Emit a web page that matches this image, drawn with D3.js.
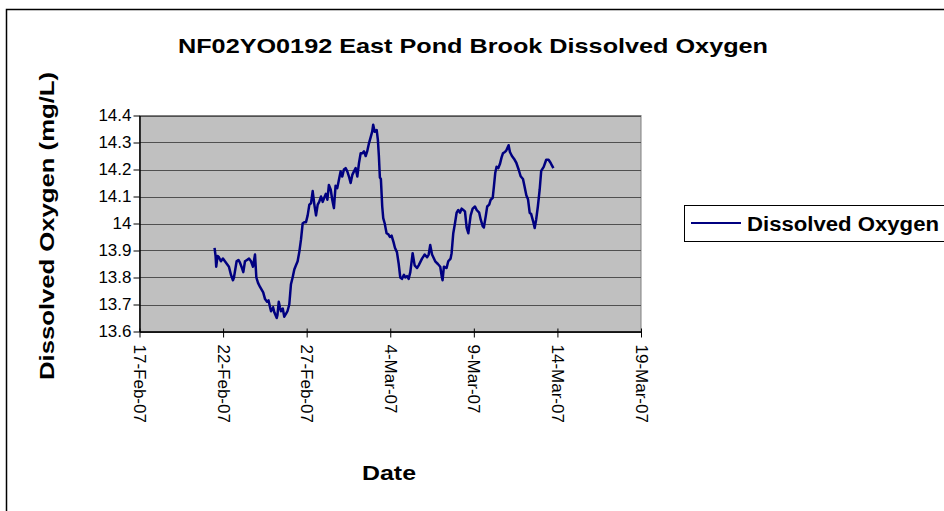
<!DOCTYPE html>
<html>
<head>
<meta charset="utf-8">
<script src="https://cdn.jsdelivr.net/npm/d3@7"></script>
<style>
  body { margin: 0; background: #fff; }
  text { font-family: Arial, "Liberation Sans", sans-serif; fill: #000; }
</style>
</head>
<body>
<svg id="chart" width="944" height="511"></svg>
<script>
//------------------- data (dates as Excel serial numbers) -------------------

var serialDates = [
  39134.49, 39134.55, 39134.59, 39134.67, 39134.75, 39134.87, 39134.99, 39135.11, 39135.23, 39135.35,
  39135.47, 39135.59, 39135.65, 39135.81, 39135.92, 39136.01, 39136.10, 39136.21, 39136.31, 39136.43,
  39136.55, 39136.67, 39136.79, 39136.91, 39136.99, 39137.09, 39137.21, 39137.40, 39137.51, 39137.63,
  39137.72, 39137.81, 39137.87, 39137.99, 39138.07, 39138.21, 39138.25, 39138.33, 39138.40, 39138.46,
  39138.57, 39138.66, 39138.76, 39138.85, 39138.96, 39139.06, 39139.16, 39139.26, 39139.36, 39139.46,
  39139.56, 39139.66, 39139.76, 39139.86, 39139.96, 39140.06, 39140.16, 39140.26, 39140.36, 39140.46,
  39140.56, 39140.66, 39140.75, 39140.86, 39140.96, 39141.05, 39141.15, 39141.24, 39141.33, 39141.44,
  39141.53, 39141.63, 39141.73, 39141.83, 39141.93, 39142.03, 39142.13, 39142.23, 39142.33, 39142.43,
  39142.53, 39142.63, 39142.73, 39142.83, 39142.93, 39143.03, 39143.13, 39143.23, 39143.33, 39143.43,
  39143.53, 39143.62, 39143.73, 39143.83, 39143.92, 39143.98, 39144.07, 39144.19, 39144.26, 39144.32,
  39144.38, 39144.44, 39144.52, 39144.58, 39144.67, 39144.78, 39144.89, 39144.98, 39145.08, 39145.20,
  39145.28, 39145.40, 39145.50, 39145.60, 39145.70, 39145.82, 39145.90, 39146.00, 39146.10, 39146.20,
  39146.34, 39146.46, 39146.60, 39146.70, 39146.90, 39147.06, 39147.20, 39147.30, 39147.39, 39147.50,
  39147.69, 39147.85, 39147.99, 39148.09, 39148.13, 39148.21, 39148.37, 39148.47, 39148.61, 39148.67,
  39148.77, 39148.87, 39148.97, 39149.07, 39149.17, 39149.27, 39149.37, 39149.47, 39149.57, 39149.67,
  39149.81, 39149.93, 39150.07, 39150.17, 39150.32, 39150.41, 39150.53, 39150.60, 39150.72, 39150.80,
  39150.92, 39151.01, 39151.13, 39151.20, 39151.28, 39151.36, 39151.46, 39151.56, 39151.66, 39151.74,
  39151.86, 39151.94, 39152.08, 39152.16, 39152.28, 39152.40, 39152.54, 39152.68, 39152.80, 39152.94,
  39153.04, 39153.14, 39153.24, 39153.34, 39153.43, 39153.54, 39153.64, 39153.73, 39153.83, 39153.94,
  39154.03, 39154.18, 39154.33, 39154.47, 39154.59, 39154.67, 39154.76
];

var oxygen = [
  13.91, 13.88, 13.84, 13.88, 13.875, 13.86, 13.87, 13.86, 13.85, 13.84,
  13.81, 13.79, 13.80, 13.86, 13.865, 13.855, 13.84, 13.82, 13.86, 13.865,
  13.87, 13.86, 13.84, 13.885, 13.80, 13.78, 13.765, 13.745, 13.72, 13.71,
  13.715, 13.69, 13.675, 13.69, 13.67, 13.65, 13.66, 13.71, 13.69, 13.675,
  13.685, 13.655, 13.665, 13.675, 13.70, 13.775, 13.80, 13.83, 13.845, 13.86,
  13.895, 13.94, 14.00, 14.005, 14.005, 14.03, 14.07, 14.075, 14.12, 14.07,
  14.03, 14.07, 14.08, 14.10, 14.08, 14.095, 14.11, 14.088, 14.143, 14.125,
  14.088, 14.057, 14.14, 14.131, 14.162, 14.193, 14.174, 14.20, 14.205, 14.193,
  14.174, 14.15, 14.18, 14.193, 14.205, 14.174, 14.224, 14.26, 14.26, 14.267,
  14.25, 14.267, 14.298, 14.32, 14.34, 14.366, 14.34, 14.346, 14.31, 14.25,
  14.17, 14.165, 14.063, 14.02, 14.00, 13.964, 13.96, 13.95, 13.955, 13.93,
  13.91, 13.894, 13.853, 13.80, 13.795, 13.81, 13.80, 13.805, 13.795, 13.82,
  13.89, 13.845, 13.835, 13.845, 13.87, 13.885, 13.875, 13.885, 13.92, 13.885,
  13.86, 13.85, 13.84, 13.80, 13.79, 13.84, 13.835, 13.86, 13.87, 13.89,
  13.964, 14.00, 14.04, 14.05, 14.04, 14.055, 14.05, 14.045, 13.985, 13.964,
  14.03, 14.055, 14.063, 14.05, 14.04, 14.015, 13.99, 13.985, 14.03, 14.063,
  14.07, 14.088, 14.095, 14.137, 14.187, 14.21, 14.205, 14.22, 14.245, 14.26,
  14.265, 14.27, 14.29, 14.265, 14.25, 14.24, 14.225, 14.20, 14.175, 14.165,
  14.135, 14.105, 14.09, 14.04, 14.035, 14.01, 13.983, 14.015, 14.063, 14.126,
  14.195, 14.21, 14.236, 14.236, 14.225, 14.215, 14.205
];

var xTickDates = ["2007-02-17", "2007-02-22", "2007-02-27", "2007-03-04", "2007-03-09", "2007-03-14", "2007-03-19"];
var yTicks = [13.6, 13.7, 13.8, 13.9, 14, 14.1, 14.2, 14.3, 14.4];

var titre = "NF02YO0192 East Pond Brook Dissolved Oxygen";
var serieNom = "Dissolved Oxygen";

//------------------- conversion des dates -------------------

function excelVersDate(s) {
    return new Date(Date.UTC(1899, 11, 30) + Math.round(s * 86400000));
}

var points = serialDates.map(function(s, i) {
    return { date: excelVersDate(s), valeur: oxygen[i] };
});
var tickDates = xTickDates.map(function(d) { return new Date(d + "T00:00:00Z"); });

//------------------- dessin -------------------

var svg = d3.select("#chart");

// cadre du graphique
svg.append("rect")
    .attr("x", 6.5).attr("y", 9.5)
    .attr("width", 1000).attr("height", 600)
    .attr("fill", "#fff")
    .attr("stroke", "#000")
    .attr("stroke-width", 1.5);

var gauche = 139.5, droite = 641, haut = 115.5, bas = 331.5;

var x = d3.scaleUtc()
    .domain([tickDates[0], tickDates[tickDates.length - 1]])
    .range([gauche, droite]);

var y = d3.scaleLinear()
    .domain([13.6, 14.4])
    .range([bas, haut]);

// zone de tracé
svg.append("rect")
    .attr("x", gauche).attr("y", haut)
    .attr("width", droite - gauche).attr("height", bas - haut)
    .attr("fill", "#c0c0c0")
    .attr("stroke", "#808080")
    .attr("stroke-width", 1);

// quadrillage
svg.append("g")
    .selectAll("line")
    .data(yTicks)
    .enter().append("line")
    .attr("x1", gauche).attr("x2", droite)
    .attr("y1", function(d) { return Math.round(y(d)) + 0.5; })
    .attr("y2", function(d) { return Math.round(y(d)) + 0.5; })
    .attr("stroke", "#505050")
    .attr("stroke-width", 1);

// axe Y
var axeY = svg.append("g")
    .attr("transform", "translate(" + gauche + ",0)")
    .call(d3.axisLeft(y).tickValues(yTicks).tickSize(6).tickSizeOuter(0)
        .tickFormat(function(d) { return d3.format("")(+d.toFixed(1)); }));
axeY.select(".domain").attr("stroke", "#000").attr("stroke-width", 1.5);
axeY.selectAll(".tick line").attr("stroke", "#000");
axeY.selectAll(".tick text")
    .attr("font-size", 17)
    .attr("font-family", "Arial, 'Liberation Sans', sans-serif")
    .attr("fill", "#000")
    .attr("x", -8);

// axe X
var axeX = svg.append("g")
    .attr("transform", "translate(0," + bas + ")")
    .call(d3.axisBottom(x).tickValues(tickDates).tickSize(6).tickSizeOuter(0)
        .tickFormat(d3.utcFormat("%-d-%b-%y")));
axeX.select(".domain").attr("stroke", "#000").attr("stroke-width", 1.5);
axeX.selectAll(".tick line").attr("stroke", "#000").attr("y1", -3);
axeX.selectAll(".tick text")
    .attr("font-size", 17)
    .attr("font-family", "Arial, 'Liberation Sans', sans-serif")
    .attr("fill", "#000")
    .attr("text-anchor", "start")
    .attr("x", 0).attr("y", 0).attr("dy", "0.35em")
    .attr("transform", "translate(0,13) rotate(90)");

// courbe
var ligne = d3.line()
    .x(function(d) { return x(d.date); })
    .y(function(d) { return y(d.valeur); });

svg.append("path")
    .datum(points)
    .attr("d", ligne)
    .attr("fill", "none")
    .attr("stroke", "#000080")
    .attr("stroke-width", 2.5)
    .attr("stroke-linejoin", "round");

// titres
svg.append("text")
    .attr("x", 473).attr("y", 53)
    .attr("text-anchor", "middle")
    .attr("font-size", 21).attr("font-weight", "bold")
    .attr("textLength", 590).attr("lengthAdjust", "spacingAndGlyphs")
    .text(titre);

svg.append("text")
    .attr("transform", "translate(54,226) rotate(-90)")
    .attr("text-anchor", "middle")
    .attr("font-size", 21).attr("font-weight", "bold")
    .attr("textLength", 308).attr("lengthAdjust", "spacingAndGlyphs")
    .text("Dissolved Oxygen (mg/L)");

svg.append("text")
    .attr("x", 389).attr("y", 480)
    .attr("text-anchor", "middle")
    .attr("font-size", 21).attr("font-weight", "bold")
    .attr("textLength", 54).attr("lengthAdjust", "spacingAndGlyphs")
    .text("Date");

// légende
var legende = svg.append("g");
legende.append("rect")
    .attr("x", 684.5).attr("y", 205.5)
    .attr("width", 300).attr("height", 36)
    .attr("fill", "#fff")
    .attr("stroke", "#000")
    .attr("stroke-width", 1);
legende.append("line")
    .attr("x1", 691).attr("x2", 741)
    .attr("y1", 223).attr("y2", 223)
    .attr("stroke", "#000080")
    .attr("stroke-width", 2);
legende.append("text")
    .attr("x", 747).attr("y", 230.5)
    .attr("font-size", 20).attr("font-weight", "bold")
    .attr("textLength", 192).attr("lengthAdjust", "spacingAndGlyphs")
    .text(serieNom);
</script>
</body>
</html>
